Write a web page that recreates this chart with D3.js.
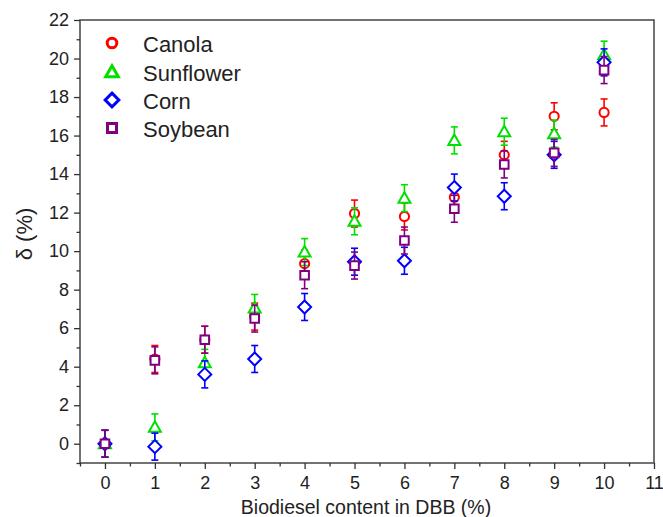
<!DOCTYPE html>
<html>
<head>
<meta charset="utf-8">
<script src="https://cdn.jsdelivr.net/npm/d3@7"></script>
<style>
  body { margin: 0; background: #fff; }
  svg text { font-family: "Liberation Sans", Arial, sans-serif; fill: #222; }
</style>
</head>
<body>
<svg id="chart" width="663" height="517"></svg>
<script>
// biodiesel content (%)
var content = [0, 1, 2, 3, 4, 5, 6, 7, 8, 9, 10];

// delta (%) per oil
var canola    = [0, 4.4, 5.4, 6.6, 9.35, 11.95, 11.8, 12.8, 15.0, 17.0, 17.2];
var sunflower = [0, 0.85, 4.2, 7.05, 9.95, 11.55, 12.75, 15.75, 16.2, 16.1, 20.2];
var corn      = [0, -0.15, 3.6, 4.4, 7.1, 9.45, 9.5, 13.3, 12.85, 15.0, 19.8];
var soybean   = [0, 4.33, 5.4, 6.5, 8.75, 9.25, 10.55, 12.2, 14.5, 15.1, 19.4];
var errBar    = 0.7;

var seriesNames = ["Canola", "Sunflower", "Corn", "Soybean"];
var seriesColors = ["#ff0000", "#00e000", "#0000ff", "#800080"];
var seriesShapes = ["circle", "triangle", "diamond", "square"];

var xTicks = [0, 1, 2, 3, 4, 5, 6, 7, 8, 9, 10, 11];
var yTicks = [0, 2, 4, 6, 8, 10, 12, 14, 16, 18, 20, 22];

var svg = d3.select("#chart");
var plotL = 80, plotT = 20, plotR = 654, plotB = 463;

var x = d3.scaleLinear().domain([-0.5, 11]).range([plotL, plotR]);
var y = d3.scaleLinear().domain([-1, 22]).range([plotB, plotT]);

// frame
svg.append("rect")
    .attr("x", plotL).attr("y", plotT)
    .attr("width", plotR - plotL).attr("height", plotB - plotT)
    .attr("fill", "none").attr("stroke", "#444").attr("stroke-width", 1.5);

// minor ticks
var xMinor = d3.range(-0.5, 11.01, 0.5).filter(function (v) { return v % 1 !== 0; });
var yMinor = d3.range(-1, 22, 2);

svg.append("g")
    .attr("transform", "translate(0," + plotB + ")")
    .call(d3.axisBottom(x).tickValues(xMinor).tickSize(3.5).tickFormat(""))
    .call(function (g) { g.select(".domain").remove(); })
    .selectAll("line").attr("stroke", "#333").attr("stroke-width", 1.3);

svg.append("g")
    .attr("transform", "translate(" + plotL + ",0)")
    .call(d3.axisLeft(y).tickValues(yMinor).tickSize(3.5).tickFormat(""))
    .call(function (g) { g.select(".domain").remove(); })
    .selectAll("line").attr("stroke", "#333").attr("stroke-width", 1.3);

// major ticks
var xAxis = svg.append("g")
    .attr("transform", "translate(0," + plotB + ")")
    .call(d3.axisBottom(x).tickValues(xTicks).tickSize(6).tickPadding(7));
xAxis.select(".domain").remove();
xAxis.selectAll("line").attr("stroke", "#333").attr("stroke-width", 1.3);
xAxis.selectAll("text").style("font-size", "18px").attr("fill", "#222");

var yAxis = svg.append("g")
    .attr("transform", "translate(" + plotL + ",0)")
    .call(d3.axisLeft(y).tickValues(yTicks).tickSize(6).tickPadding(5));
yAxis.select(".domain").remove();
yAxis.selectAll("line").attr("stroke", "#333").attr("stroke-width", 1.3);
yAxis.selectAll("text").style("font-size", "18px").attr("fill", "#222");

// axis titles
svg.append("text")
    .attr("x", 366).attr("y", 514)
    .attr("text-anchor", "middle")
    .style("font-size", "19.5px")
    .text("Biodiesel content in DBB (%)");

svg.append("text")
    .attr("transform", "translate(32,234) rotate(-90)")
    .attr("text-anchor", "middle")
    .style("font-size", "22px")
    .text("δ (%)");

function shapePath(shape, k) {
    k = k || 1;
    if (shape === "circle") return d3.symbol().type(d3.symbolCircle).size(66 * k * k)();
    if (shape === "triangle") return "M0," + (-6 * k) + "L" + (6 * k) + "," + (4.5 * k) + "L" + (-6 * k) + "," + (4.5 * k) + "Z";
    if (shape === "diamond") return "M0," + (-6.5 * k) + "L" + (6.5 * k) + ",0L0," + (6.5 * k) + "L" + (-6.5 * k) + ",0Z";
    return "M" + (-4.3 * k) + "," + (-4.3 * k) + "h" + (8.6 * k) + "v" + (8.6 * k) + "h" + (-8.6 * k) + "Z";
}

var allSeries = [canola, sunflower, corn, soybean];

for (var s = 0; s < allSeries.length; s++) {
    var vals = allSeries[s];
    var color = seriesColors[s];
    var g = svg.append("g").attr("class", "series-" + seriesNames[s]);

    for (var i = 0; i < vals.length; i++) {
        var cx = x(content[i]);
        var yt = y(vals[i] + errBar), yb = y(vals[i] - errBar);
        g.append("line").attr("x1", cx).attr("x2", cx).attr("y1", yt).attr("y2", yb)
            .attr("stroke", color).attr("stroke-width", 1.6);
        g.append("line").attr("x1", cx - 3.5).attr("x2", cx + 3.5).attr("y1", yt).attr("y2", yt)
            .attr("stroke", color).attr("stroke-width", 1.6);
        g.append("line").attr("x1", cx - 3.5).attr("x2", cx + 3.5).attr("y1", yb).attr("y2", yb)
            .attr("stroke", color).attr("stroke-width", 1.6);
        g.append("path")
            .attr("d", shapePath(seriesShapes[s]))
            .attr("transform", "translate(" + cx + "," + y(vals[i]) + ")")
            .attr("fill", "#fff")
            .attr("stroke", color).attr("stroke-width", 2);
    }
}

// legend
var legendY = [43, 72, 100, 128];
var legend = svg.append("g");
seriesNames.forEach(function (name, k) {
    var ly = legendY[k];
    legend.append("path")
        .attr("d", shapePath(seriesShapes[k], 1.05))
        .attr("transform", "translate(112," + ly + ")")
        .attr("fill", "#fff")
        .attr("stroke", seriesColors[k]).attr("stroke-width", 3);
    legend.append("text")
        .attr("x", 143).attr("y", ly + 9)
        .style("font-size", "22px")
        .text(name);
});
</script>
</body>
</html>
